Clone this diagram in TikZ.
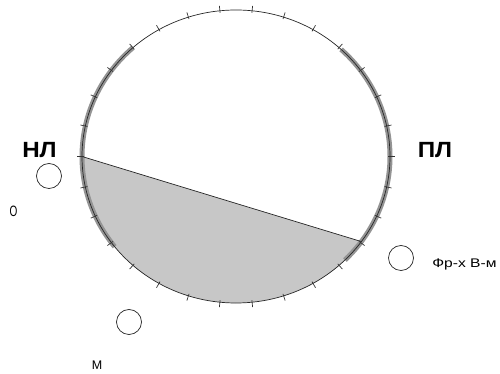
\documentclass[tikz,border=0pt]{standalone}
\usepackage{fontspec}
\setmainfont{Liberation Sans}
\usetikzlibrary{positioning, calc}

\begin{document}
\begin{tikzpicture}[
        x=1pt, y=1pt,
        rim/.style={
            draw=black!85,
            line width=0.7pt
        },
        band/.style={
            draw=black!42,
            line width=5pt
        },
        tickmark/.style={
            draw=black!80,
            line width=0.7pt
        },
        spot/.style={
            circle,
            draw=black!85,
            line width=0.7pt,
            minimum size=25pt,
            inner sep=0pt
        },
        biglabel/.style={
            font=\fontsize{22}{24}\selectfont\bfseries,
            inner sep=0pt
        },
        smalllabel/.style={
            font=\fontsize{12.5}{14}\selectfont,
            inner sep=0pt
        }
    ]

    \useasboundingbox (0,0) rectangle (500,374);

    % --------------------------------------------------------
    % Dial
    % --------------------------------------------------------

    \coordinate (centre) at (236,217.5);

    \coordinate (chordLeft)
        at ($(centre)+(180:154 and 146.5)$);

    \coordinate (chordRight)
        at ($(centre)+(-35.5:154 and 146.5)$);

    % Shaded segment
    \fill[black!22]
        (chordLeft) -- (chordRight)
        arc[start angle=-35.5, end angle=-180,
            x radius=154, y radius=146.5]
        -- cycle;

    % Grey bands on both sides
    \draw[band]
        ($(centre)+(132:154 and 146.5)$)
        arc[start angle=132, end angle=218,
            x radius=154, y radius=146.5];

    \draw[band]
        ($(centre)+(47:154 and 146.5)$)
        arc[start angle=47, end angle=-45,
            x radius=154, y radius=146.5];

    % Outline
    \draw[rim] (centre) ellipse[x radius=154, y radius=146.5];

    % Chord
    \draw[rim] (chordLeft) -- (chordRight);

    % Ticks
    \foreach \a in {0,12,...,348}
        \draw[tickmark]
            ($(centre)+(\a:152 and 144.5)$)
            -- ($(centre)+(\a:159 and 151.5)$);

    % --------------------------------------------------------
    % Spots and labels
    % --------------------------------------------------------

    \node[spot] (spotNL) at (49,198) {};
    \node[spot] (spotFr) at (401,116) {};
    \node[spot] (spotM) at (129,52) {};

    \node[biglabel, xscale=1.1] (nl) at (39.5,224) {НЛ};
    \node[biglabel, xscale=1.1] (pl) at (435,224) {ПЛ};

    \node[smalllabel, xscale=0.8, yscale=1.2] (o) at (13.5,163) {О};

    \node[smalllabel, anchor=west, xscale=1.25] (frx) at (432,109.5) {Фр-х В-м};

    \node[smalllabel] (m) at (97,9) {М};

\end{tikzpicture}
\end{document}
